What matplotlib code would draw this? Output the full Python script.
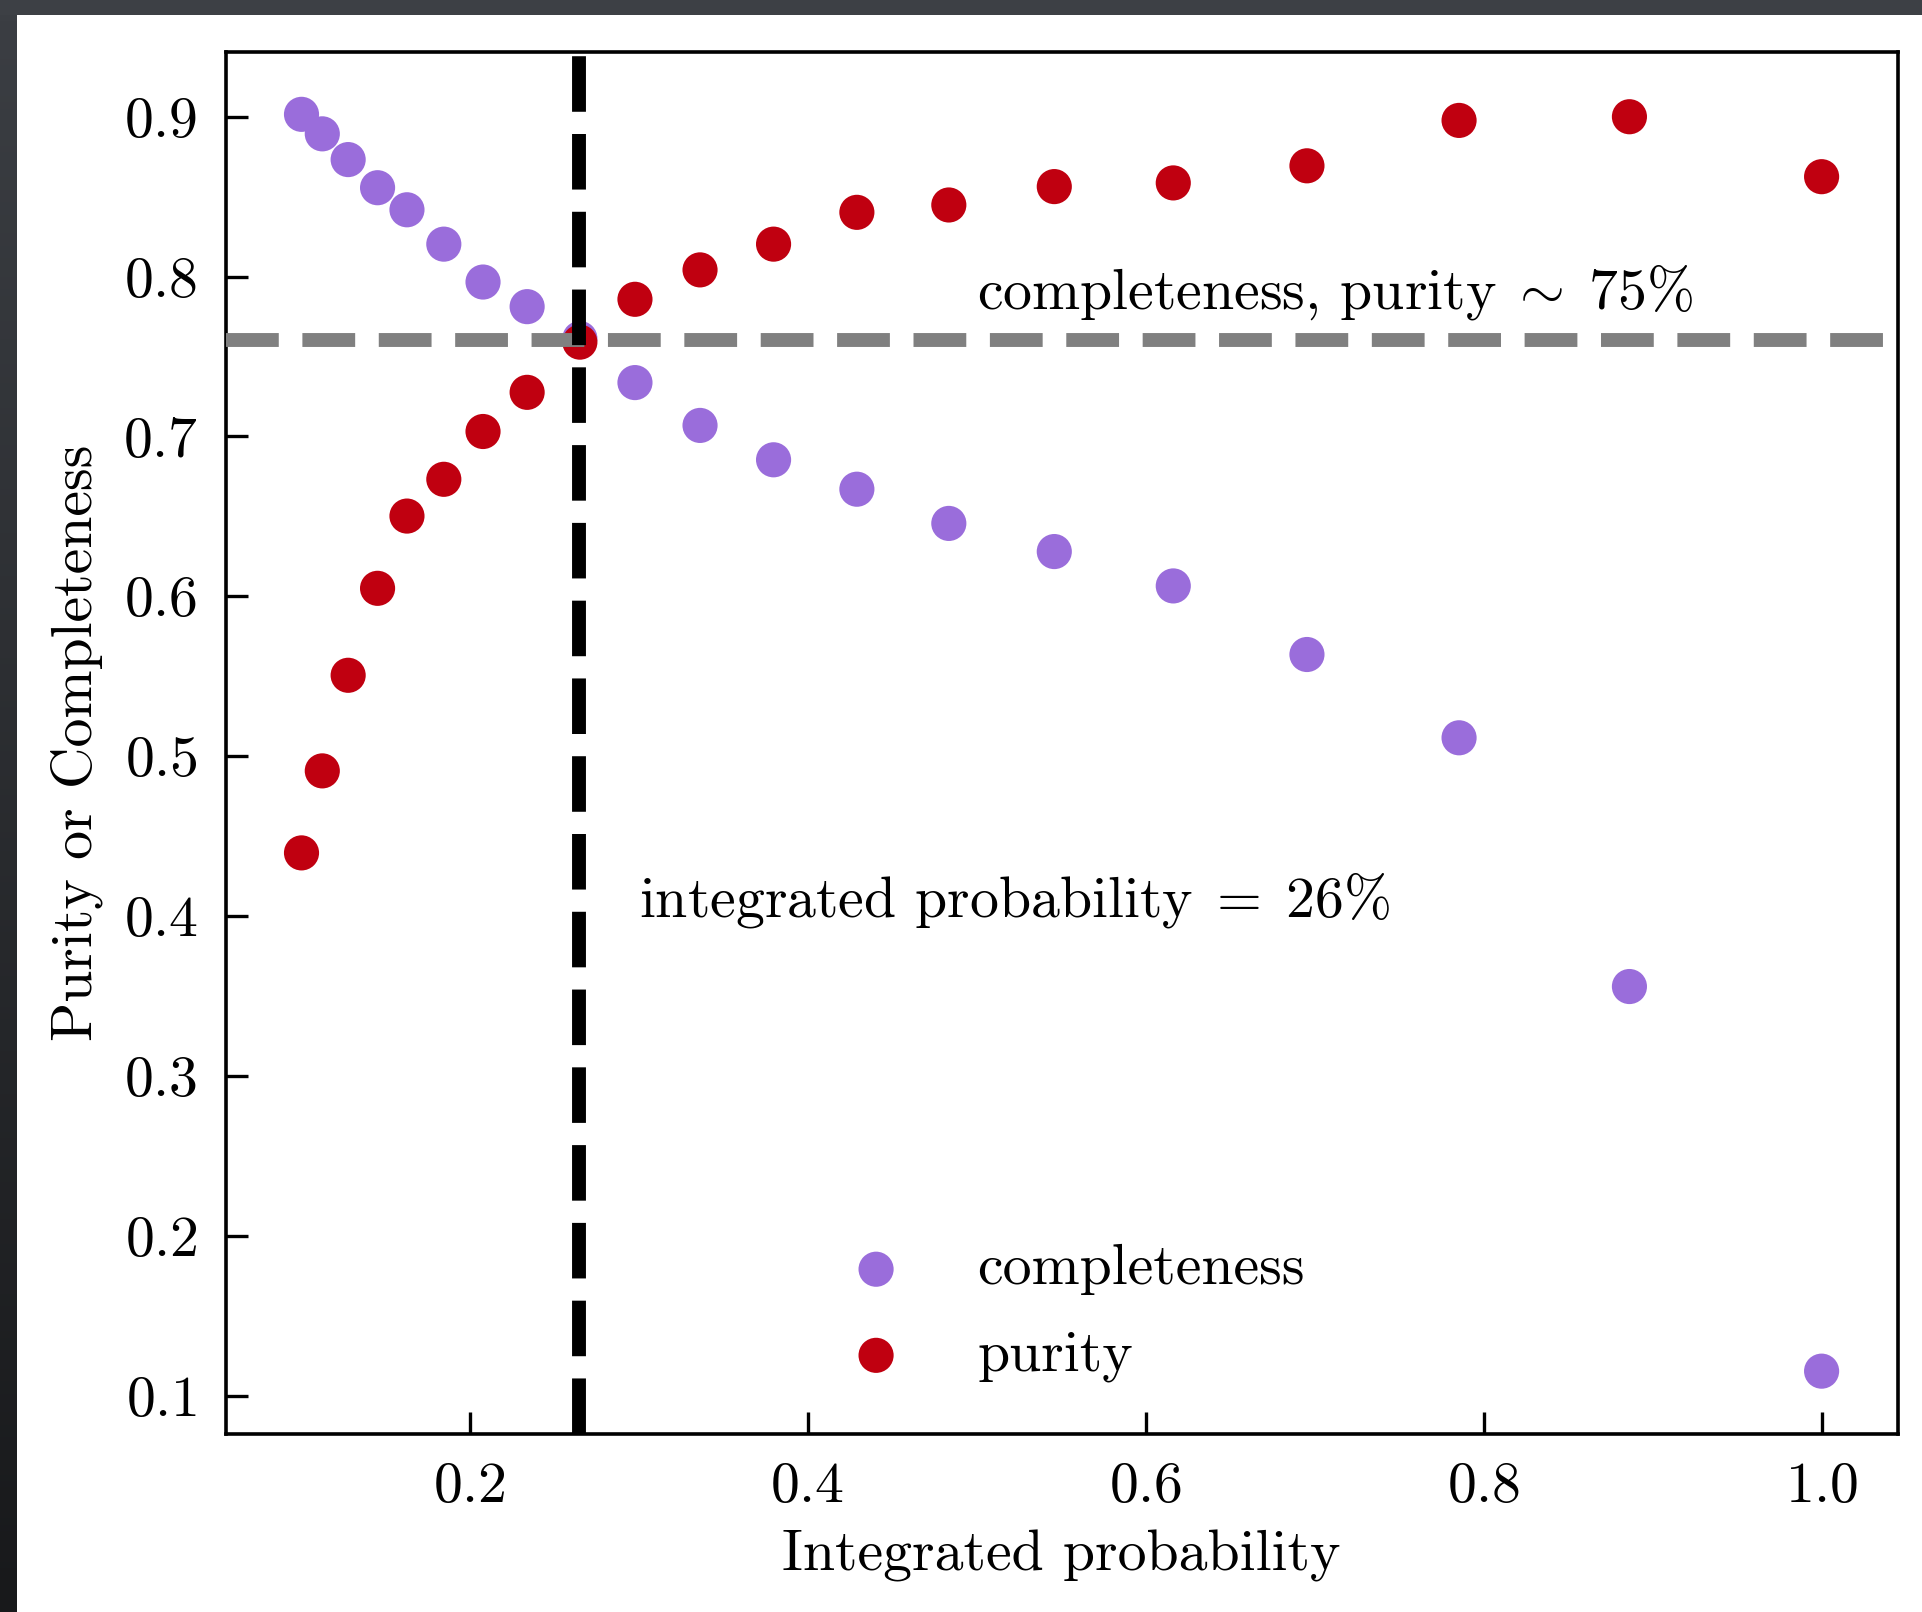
import numpy as np
import matplotlib
matplotlib.use("Agg")
import matplotlib.pyplot as plt
from matplotlib.colors import LinearSegmentedColormap

plt.rcParams['font.family'] = 'serif'
plt.rcParams['font.serif'] = ['cmr10', 'DejaVu Serif']
plt.rcParams['mathtext.fontset'] = 'cm'
plt.rcParams['axes.formatter.use_mathtext'] = True
plt.rcParams['axes.unicode_minus'] = False

# ---- data ----
integrated_probability = [0.1006, 0.1129, 0.1282, 0.1456, 0.1630, 0.1848, 0.2080, 0.2341,
                          0.2653, 0.2979, 0.3364, 0.3799, 0.4292, 0.4836, 0.5460, 0.6164,
                          0.6955, 0.7855, 0.8863, 1.0000]
completeness = [0.9015, 0.8893, 0.8732, 0.8556, 0.8418, 0.8203, 0.7966, 0.7812,
                0.7613, 0.7337, 0.7069, 0.6854, 0.6670, 0.6456, 0.6280, 0.6065,
                0.5636, 0.5115, 0.3559, 0.1153]
purity = [0.4395, 0.4908, 0.5506, 0.6050, 0.6502, 0.6732, 0.7031, 0.7276,
          0.7590, 0.7858, 0.8042, 0.8203, 0.8402, 0.8448, 0.8563, 0.8586,
          0.8693, 0.8977, 0.9000, 0.8625]
threshold_prob = 0.265
threshold_value = 0.7605

FS = 20.8
W, H, DPI = 1922, 1612, 200
fig = plt.figure(figsize=(W / DPI, H / DPI), dpi=DPI)
fig.patch.set_facecolor('white')

# screenshot-like dark frame (top and left)
top_px, left_px = 15, 17
fig.patches.append(plt.Rectangle((0, 1 - top_px / H), 1, top_px / H,
                                 transform=fig.transFigure, facecolor='#3d4045',
                                 edgecolor='none', zorder=0))
gax = fig.add_axes([0, 0, left_px / W, 1 - top_px / H])
grad = np.linspace(0, 1, 256).reshape(-1, 1)
cm_frame = LinearSegmentedColormap.from_list('frame', ['#3b3e43', '#18191b'])
gax.imshow(grad, aspect='auto', cmap=cm_frame, extent=[0, 1, 0, 1], origin='upper')
gax.set_axis_off()

ax = fig.add_axes([225.5 / W, 178 / H, (1897.6 - 225.5) / W, (1560.5 - 178) / H])

ax.scatter(integrated_probability, completeness, s=160, color='#9a6ddb',
           edgecolors='none', label='completeness', zorder=2)
ax.scatter(integrated_probability, purity, s=160, color='#c00010',
           edgecolors='none', label='purity', zorder=2)

ax.axhline(threshold_value, color='#808080', lw=5.0, dashes=(3.8, 1.7), zorder=3)
ax.axvline(threshold_prob, color='black', lw=5.0, dashes=(4.0, 1.6), zorder=4)

ax.text(0.5, 0.78, r'completeness, purity$\;{\sim}\;$75$\%$', fontsize=FS)
ax.text(0.3, 0.40, r'integrated probability$\;{=}\;$26$\%$', fontsize=FS)

ax.set_xticks([0.2, 0.4, 0.6, 0.8, 1.0])
ax.set_yticks([0.1, 0.2, 0.3, 0.4, 0.5, 0.6, 0.7, 0.8, 0.9])
ax.tick_params(direction='in', length=8, width=1.2, labelsize=FS, pad=10)
for sp in ax.spines.values():
    sp.set_linewidth(1.3)

ax.set_xlabel('Integrated probability', fontsize=FS, labelpad=6)
ax.set_ylabel('Purity or Completeness', fontsize=FS, labelpad=7)

ax.legend(loc='lower center', frameon=False, fontsize=FS, handletextpad=0.75,
          labelspacing=0.6, bbox_to_anchor=(0.5, 0.0))

fig.savefig('out.png', dpi=DPI)
